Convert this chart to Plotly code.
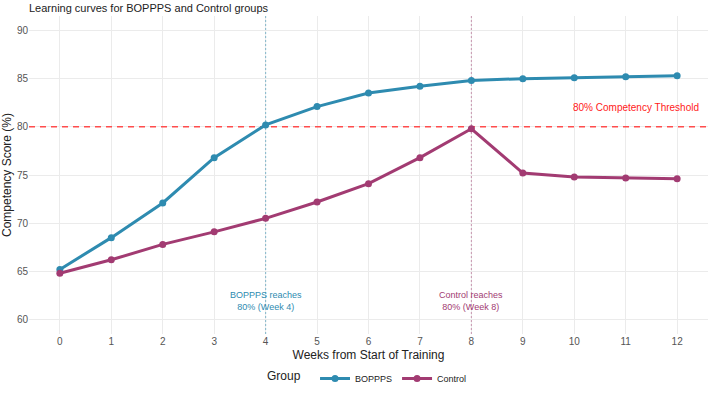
import plotly.graph_objects as go

weeks = list(range(13))
boppps = [65.2, 68.5, 72.1, 76.8, 80.2, 82.1, 83.5, 84.2, 84.8, 85.0, 85.1, 85.2, 85.3]
control = [64.8, 66.2, 67.8, 69.1, 70.5, 72.2, 74.1, 76.8, 79.8, 75.2, 74.8, 74.7, 74.6]
y_ticks = [60, 65, 70, 75, 80, 85, 90]
threshold = 80
boppps_week = 4
control_week = 8
x_lim = [-0.6, 12.6]
y_lim = [58.5, 91.5]

c_b = "#2E8BB0"
c_c = "#A23B72"
font = "Liberation Sans, Arial, sans-serif"

fig = go.Figure()
# reference lines (drawn first, below data, above grid)
fig.add_trace(go.Scatter(x=x_lim, y=[threshold, threshold], mode="lines", showlegend=False, hoverinfo="skip",
                         line=dict(color="#FF4D4D", width=1.4, dash="6px,5px")))
fig.add_trace(go.Scatter(x=[boppps_week, boppps_week], y=y_lim, mode="lines", showlegend=False, hoverinfo="skip",
                         line=dict(color="rgba(46,139,176,0.5)", width=1.1, dash="2px,2px")))
fig.add_trace(go.Scatter(x=[control_week, control_week], y=y_lim, mode="lines", showlegend=False, hoverinfo="skip",
                         line=dict(color="rgba(162,59,114,0.45)", width=1.1, dash="2px,2px")))

fig.add_trace(go.Scatter(x=weeks, y=boppps, mode="lines+markers", name="BOPPPS",
                         line=dict(color=c_b, width=3), marker=dict(size=7, color=c_b)))
fig.add_trace(go.Scatter(x=weeks, y=control, mode="lines+markers", name="Control",
                         line=dict(color=c_c, width=3), marker=dict(size=7, color=c_c)))

fig.add_annotation(x=boppps_week, y=61.9, text="BOPPPS reaches<br>80% (Week 4)", showarrow=False,
                   font=dict(color=c_b, size=9, family=font), align="center")
fig.add_annotation(x=control_week, y=61.9, text="Control reaches<br>80% (Week 8)", showarrow=False,
                   font=dict(color=c_c, size=9, family=font), align="center")
fig.add_annotation(x=11.2, y=82.0, text="80% Competency Threshold", showarrow=False,
                   font=dict(color="#FF1A1A", size=10, family=font))

fig.update_layout(
    width=708, height=394,
    margin=dict(l=29, r=0, t=16, b=60, autoexpand=False),
    plot_bgcolor="white", paper_bgcolor="white",
    font=dict(family=font, color="#222"),
    title=dict(text="Learning curves for BOPPPS and Control groups", x=0.0, xref="paper",
               y=0.988, yref="container", xanchor="left", yanchor="top",
               font=dict(size=11, color="#222", family=font)),
    xaxis=dict(range=x_lim, tickmode="array", tickvals=weeks, ticktext=[str(w) for w in weeks],
               showgrid=True, gridcolor="#EBEBEB", gridwidth=1, zeroline=False, showline=False,
               tickfont=dict(size=10, color="#555"), ticks="", automargin=False,
               title=dict(text="Weeks from Start of Training", font=dict(size=12, color="#222"), standoff=4)),
    yaxis=dict(range=y_lim, tickmode="array", tickvals=y_ticks, ticktext=[str(v) for v in y_ticks],
               showgrid=True, gridcolor="#EBEBEB", gridwidth=1, zeroline=False, showline=False,
               tickfont=dict(size=10, color="#555"), ticks="", automargin=False,
               title=dict(text="Competency Score (%)", font=dict(size=12, color="#222"), standoff=2)),
    legend=dict(orientation="h", x=0.5, xanchor="center", y=-0.14, yanchor="middle",
                title=dict(text="Group  ", font=dict(size=12, color="#222")),
                font=dict(size=9, color="#222"), itemwidth=30),
)

fig.write_html("out.html")
